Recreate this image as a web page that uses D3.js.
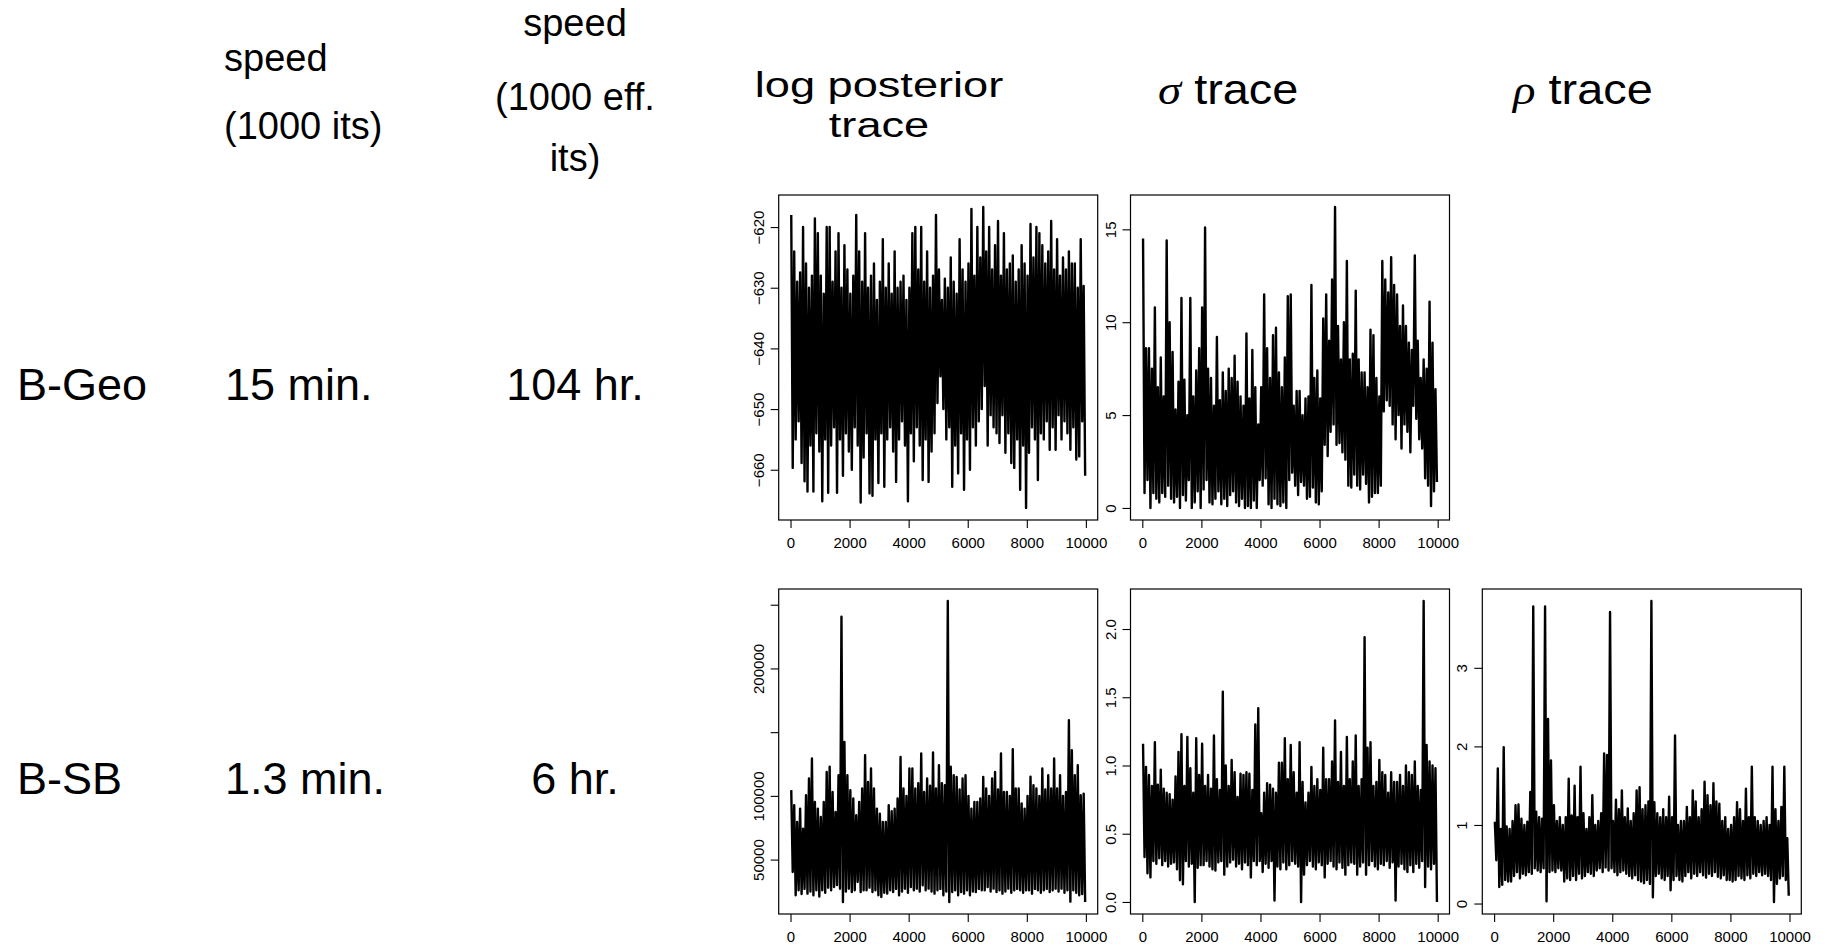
<!DOCTYPE html>
<html>
<head>
<meta charset="utf-8">
<script src="https://cdn.jsdelivr.net/npm/d3@7"></script>
<style>
  body { margin: 0; background: #fff; }
</style>
</head>
<body>
<script>
// table text
var methods = ["B-Geo", "B-SB"];
var speedIts = ["15 min.", "1.3 min."];
var speedEff = ["104 hr.", "6 hr."];

// iteration ticks (shared by every panel)
var iterTicks = [0, 2000, 4000, 6000, 8000, 10000];

var geoLogpostHi = [-618, -624, -629, -627.5, -620, -626, -630, -628, -618.6, -621,
  -628, -631, -620, -620, -629, -624, -621, -630, -623, -627,
  -631, -628, -618, -624, -629, -621, -630, -628, -626, -632,
  -629, -622, -630, -626, -631, -624, -630, -629, -628, -632,
  -630, -621, -620, -627, -620, -629, -624, -630, -628, -618,
  -627, -632, -628.5, -630, -625, -629, -631, -622, -627, -629,
  -626, -617, -628, -620, -625, -616.7, -624, -620, -627, -623,
  -619, -628, -621, -627, -626, -624.7, -629, -627, -623, -626,
  -628, -619.5, -625, -620, -621, -623, -626, -624, -619, -627,
  -622, -628, -625, -627, -624, -626, -626, -630, -622, -629.7];
var geoLogpostLo = [-659.7, -655, -652, -658.9, -661.9, -663.6, -656, -663.6, -654, -657,
  -665.2, -655, -663.8, -656, -653, -663.8, -655, -661, -654, -657,
  -660, -653, -656, -665.4, -658, -654, -663.9, -664.3, -655, -662.2,
  -654, -662.8, -655, -653, -657, -662, -655, -652, -656, -665.2,
  -654, -658.6, -653, -656, -661.7, -655, -662, -657, -654, -649,
  -644.6, -650, -655, -653, -662.8, -656, -660.6, -654, -663.3, -655,
  -660, -653, -656, -652, -650, -646.2, -656, -651, -653, -654,
  -655.6, -651, -657.2, -654, -658.9, -659.7, -655, -663.3, -656, -666.3,
  -657.2, -653, -655, -661.7, -654, -655, -652, -656.7, -653, -656.7,
  -651, -655, -652, -654, -656.7, -653, -658.3, -657.8, -652, -661];

var geoSigmaHi = [14.5, 8.6, 8.6, 7.5, 10.8, 6.5, 8.1, 6.0, 14.4, 10.0,
  8.4, 5.3, 6.8, 11.3, 6.9, 5.0, 11.3, 6.0, 7.4, 8.6,
  10.8, 15.1, 7.5, 7.0, 5.5, 9.2, 5.8, 7.3, 6.3, 7.5,
  7.0, 8.2, 6.8, 6.0, 5.5, 9.4, 5.9, 8.5, 6.5, 4.5,
  6.5, 11.5, 8.6, 7.0, 9.3, 9.7, 7.3, 6.5, 8.1, 11.4,
  11.5, 5.5, 6.3, 6.3, 5.0, 5.9, 6.0, 12.0, 7.0, 7.4,
  5.9, 10.2, 11.5, 9.0, 12.3, 16.2, 9.8, 8.0, 10.0, 13.3,
  8.0, 8.3, 11.7, 8.0, 7.3, 7.3, 6.5, 9.6, 9.3, 7.0,
  6.0, 13.3, 12.3, 11.6, 13.5, 12.0, 11.5, 9.8, 10.9, 9.8,
  8.9, 8.5, 13.6, 9.0, 7.0, 8.0, 7.5, 11.1, 8.9, 6.4];
var geoSigmaLo = [0.8, 1.5, 0, 0.8, 0.5, 0.3, 0.8, 0.6, 1.2, 0.5,
  0.3, 0.6, 0, 0.7, 0.4, 1.5, 0, 0.3, 0.9, 0,
  1.0, 1.5, 0.3, 0.2, 0.5, 0.9, 0.2, 0.5, 0.1, 0.7,
  0.9, 0.3, 0.1, 0.5, 0, 0.1, 0, 0.4, 0, 1.5,
  1.2, 1.6, 0.2, 0, 0.5, 0.2, 0.1, 0.3, 0, 1.5,
  1.9, 1.2, 0.7, 1.4, 1.2, 0.5, 0.6, 1.1, 0.3, 0.2,
  0.9, 3.4, 2.8, 4.1, 4.5, 3.4, 3.5, 3.0, 2.6, 1.2,
  1.1, 1.8, 1.2, 1.0, 1.8, 1.3, 0.3, 0.6, 0.8, 0.8,
  1.2, 5.2, 5.8, 5.5, 4.5, 3.7, 5.0, 3.2, 4.5, 4.1,
  3.0, 5.5, 4.8, 3.7, 3.2, 1.6, 1.2, 0.1, 0.9, 1.4];

var sbLogpostHi = [104500, 92700, 79600, 90000, 74300, 100500, 113600, 129300, 95300, 90000,
  83500, 95300, 118800, 122800, 103000, 87400, 116200, 240600, 142400, 116200,
  104500, 98000, 84800, 95300, 105800, 132000, 111000, 121500, 105800, 90000,
  86000, 79600, 79600, 92700, 88000, 90000, 98000, 130600, 105800, 100000,
  121500, 121500, 105800, 110000, 133200, 103000, 113600, 108000, 134000, 105800,
  124100, 110000, 108400, 252900, 122800, 116200, 114900, 105000, 113600, 116200,
  100000, 90000, 95300, 95300, 98000, 114900, 105800, 100000, 113600, 118800,
  105000, 133200, 103000, 103000, 100000, 136600, 105800, 105800, 94000, 90000,
  100000, 115000, 108400, 105800, 100000, 121500, 105000, 116200, 105800, 129300,
  105800, 116200, 100000, 103000, 159400, 135900, 116200, 124100, 100500, 101800];
var sbLogpostLo = [40300, 22000, 26000, 23000, 27000, 23300, 25000, 22000, 26000, 21000,
  25900, 24000, 28000, 26000, 28500, 30000, 27200, 16750, 25000, 27200,
  24600, 26000, 32500, 24600, 26000, 25900, 28000, 24600, 26000, 22000,
  20700, 24000, 23300, 26000, 24600, 27000, 22000, 25000, 27200, 24000,
  28500, 26000, 27200, 25000, 29800, 26000, 27200, 25000, 23300, 26000,
  27000, 22000, 25000, 16750, 24600, 26000, 22000, 24600, 23300, 26000,
  22000, 25000, 24600, 27000, 25900, 26000, 28500, 25000, 27200, 24600,
  26000, 23300, 25000, 27200, 24000, 25900, 27000, 25900, 24000, 26000,
  25900, 23300, 27000, 25900, 24000, 25900, 27000, 24600, 26000, 27200,
  25000, 27200, 24000, 26000, 17000, 25900, 24000, 22000, 23000, 16750];

var sbSigmaHi = [1.16, 0.99, 0.93, 0.85, 1.17, 0.86, 0.97, 0.83, 0.80, 0.79,
  0.75, 0.92, 1.10, 1.23, 0.85, 1.21, 0.98, 0.80, 1.20, 0.93,
  1.16, 0.85, 0.93, 0.83, 1.22, 0.90, 0.82, 1.54, 1.00, 0.85,
  1.04, 0.95, 0.77, 0.94, 0.93, 0.95, 0.94, 0.82, 1.30, 1.42,
  0.65, 0.80, 0.87, 0.86, 0.83, 0.80, 1.02, 1.02, 1.20, 0.90,
  1.15, 0.95, 0.80, 1.17, 0.88, 0.73, 0.80, 0.99, 0.85, 0.90,
  0.82, 1.13, 0.90, 0.90, 1.03, 1.33, 0.88, 1.10, 0.85, 1.21,
  0.90, 1.03, 1.22, 0.85, 0.90, 1.94, 1.13, 1.17, 0.85, 0.88,
  1.04, 0.95, 0.93, 0.80, 0.95, 0.88, 0.88, 0.93, 0.85, 1.00,
  0.95, 0.93, 1.03, 0.85, 0.82, 2.205, 1.15, 1.03, 1.00, 0.98];
var sbSigmaLo = [0.33, 0.21, 0.18, 0.30, 0.28, 0.32, 0.27, 0.30, 0.26, 0.28,
  0.29, 0.24, 0.16, 0.13, 0.30, 0.26, 0.28, 0.00, 0.25, 0.27,
  0.27, 0.30, 0.26, 0.24, 0.23, 0.29, 0.30, 0.20, 0.26, 0.29,
  0.31, 0.26, 0.28, 0.24, 0.29, 0.27, 0.18, 0.30, 0.27, 0.30,
  0.22, 0.28, 0.25, 0.30, 0.01, 0.26, 0.24, 0.29, 0.24, 0.27,
  0.30, 0.28, 0.26, 0.00, 0.20, 0.27, 0.30, 0.26, 0.24, 0.29,
  0.27, 0.18, 0.28, 0.30, 0.26, 0.24, 0.29, 0.25, 0.20, 0.27,
  0.29, 0.28, 0.20, 0.26, 0.29, 0.20, 0.27, 0.30, 0.26, 0.24,
  0.28, 0.27, 0.30, 0.25, 0.29, 0.01, 0.26, 0.28, 0.24, 0.22,
  0.27, 0.22, 0.28, 0.25, 0.30, 0.11, 0.26, 0.24, 0.28, 0.00];

var sbRhoHi = [1.04, 1.72, 0.95, 1.99, 0.98, 0.95, 1.05, 1.25, 1.26, 1.08,
  1.00, 1.04, 1.42, 3.78, 1.17, 1.10, 1.08, 3.78, 2.35, 1.82,
  1.25, 1.05, 1.10, 1.00, 1.10, 1.59, 1.12, 1.50, 1.10, 1.74,
  1.15, 0.95, 1.10, 1.38, 1.00, 1.05, 1.15, 1.91, 1.89, 3.71,
  1.05, 1.32, 1.20, 1.44, 1.10, 1.21, 1.05, 1.15, 1.44, 1.48,
  1.20, 1.25, 1.30, 3.85, 1.29, 1.15, 1.10, 1.20, 1.10, 1.36,
  1.10, 2.14, 1.00, 1.05, 1.05, 1.23, 1.10, 1.44, 1.30, 1.10,
  1.20, 1.55, 1.38, 1.25, 1.53, 1.30, 1.27, 1.05, 1.10, 0.95,
  1.00, 1.10, 1.29, 1.20, 1.05, 1.46, 1.10, 1.74, 1.10, 1.05,
  1.00, 1.05, 1.10, 1.00, 1.74, 1.20, 1.05, 1.23, 1.74, 0.83];
var sbRhoLo = [0.55, 0.21, 0.24, 0.30, 0.28, 0.28, 0.35, 0.40, 0.32, 0.38,
  0.36, 0.40, 0.38, 0.45, 0.42, 0.40, 0.45, 0.03, 0.40, 0.42,
  0.40, 0.45, 0.42, 0.28, 0.32, 0.30, 0.35, 0.30, 0.38, 0.32,
  0.35, 0.40, 0.38, 0.35, 0.42, 0.45, 0.40, 0.46, 0.42, 0.45,
  0.40, 0.36, 0.40, 0.42, 0.38, 0.35, 0.32, 0.36, 0.30, 0.28,
  0.26, 0.30, 0.25, 0.08, 0.35, 0.38, 0.32, 0.30, 0.35, 0.17,
  0.30, 0.35, 0.30, 0.28, 0.35, 0.40, 0.32, 0.38, 0.35, 0.40,
  0.36, 0.33, 0.38, 0.35, 0.40, 0.34, 0.32, 0.36, 0.30, 0.30,
  0.28, 0.30, 0.35, 0.32, 0.30, 0.36, 0.32, 0.38, 0.35, 0.40,
  0.36, 0.38, 0.35, 0.30, 0.02, 0.25, 0.32, 0.35, 0.30, 0.10];

// y ticks per panel
var geoLogpostTicks = [-660, -650, -640, -630, -620];
var geoSigmaTicks = [0, 5, 10, 15];
var sbLogpostTicks = [50000, 100000, 150000, 200000, 250000];
var sbLogpostLabels = ["50000", "100000", "", "200000", ""];  // R drops the crowded ones
var sbSigmaTicks = [0, 0.5, 1, 1.5, 2];
var sbRhoTicks = [0, 1, 2, 3];

var sans = "Liberation Sans, Arial, Helvetica, sans-serif";
var serif = "Liberation Serif, Times New Roman, serif";

var svg = d3.select("body").append("svg")
  .attr("width", 1828)
  .attr("height", 947);

function label(x, y, str, size, anchor, sx) {
  return svg.append("text")
    .attr("transform", "translate(" + x + "," + y + ") scale(" + (sx || 1) + ",1)")
    .attr("font-family", sans)
    .attr("font-size", size)
    .attr("text-anchor", anchor || "start")
    .attr("fill", "black")
    .text(str);
}

// header, left part
label(224, 71, "speed", 38);
label(224, 139, "(1000 its)", 38);
label(575, 36, "speed", 38, "middle");
label(575, 110, "(1000 eff.", 38, "middle");
label(575, 171, "its)", 38, "middle");

// header, trace columns (wider than tall in the reference, two lines packed tight)
label(879, 97, "log posterior", 36, "middle", 1.255);
label(879, 137, "trace", 36, "middle", 1.255);

var sig = label(1158, 104, "", 43, "start", 1.09);
sig.append("tspan").attr("font-family", serif).attr("font-style", "italic").text("\u03c3");
sig.append("tspan").text(" trace");

var rho = label(1513, 104, "", 43, "start", 1.09);
rho.append("tspan").attr("font-family", serif).attr("font-style", "italic").text("\u03c1");
rho.append("tspan").text(" trace");

// rows
var rowBase = [400, 794];
for (var r = 0; r < 2; r++) {
  label(17, rowBase[r], methods[r], 45);
  label(225, rowBase[r], speedIts[r], 45);
  label(575, rowBase[r], speedEff[r], 45, "middle");
}

// one trace panel, R style (4% padding, box, outward ticks, rotated y labels)
var pw = 319, ph = 325;
function tracePanel(left, top, hi, lo, yTicks, yFormat) {
  var g = svg.append("g").attr("transform", "translate(" + left + "," + top + ")");

  var pts = [];
  for (var i = 0; i < hi.length; i++) {
    pts.push([i * 100 + 25, hi[i]]);
    pts.push([i * 100 + 75, lo[i]]);
  }
  var ext = d3.extent(pts, function(d) { return d[1]; });
  var pad = (ext[1] - ext[0]) * 0.04;

  var x = d3.scaleLinear().domain([-400, 10400]).range([0, pw]);
  var y = d3.scaleLinear().domain([ext[0] - pad, ext[1] + pad]).range([ph, 0]);

  g.append("path")
    .datum(pts)
    .attr("d", d3.line().x(function(d) { return x(d[0]); }).y(function(d) { return y(d[1]); }))
    .attr("fill", "none")
    .attr("stroke", "black")
    .attr("stroke-width", 2.4)
    .attr("stroke-linejoin", "round");

  g.append("rect")
    .attr("x", 0).attr("y", 0)
    .attr("width", pw).attr("height", ph)
    .attr("fill", "none")
    .attr("stroke", "black")
    .attr("stroke-width", 1.2);

  var xa = g.append("g").attr("transform", "translate(0," + ph + ")")
    .call(d3.axisBottom(x).tickValues(iterTicks).tickSize(8).tickSizeOuter(0).tickFormat(d3.format("d")));
  xa.select(".domain").remove();
  xa.selectAll("line").attr("stroke-width", 1.1);
  xa.selectAll("text")
    .attr("y", 28).attr("dy", null)
    .attr("font-size", 15).attr("font-family", sans);

  var ya = g.append("g")
    .call(d3.axisLeft(y).tickValues(yTicks).tickSize(8).tickSizeOuter(0).tickFormat(yFormat));
  ya.select(".domain").remove();
  ya.selectAll("line").attr("stroke-width", 1.1);
  ya.selectAll("text")
    .attr("x", 0).attr("y", -15).attr("dy", null)
    .attr("transform", "rotate(-90)")
    .attr("text-anchor", "middle")
    .attr("font-size", 15).attr("font-family", sans);
}

var colLeft = [778.7, 1130.5, 1482.3];
var rowTop = [195, 589];

tracePanel(colLeft[0], rowTop[0], geoLogpostHi, geoLogpostLo, geoLogpostTicks, d3.format("d"));
tracePanel(colLeft[1], rowTop[0], geoSigmaHi, geoSigmaLo, geoSigmaTicks, d3.format("d"));
tracePanel(colLeft[0], rowTop[1], sbLogpostHi, sbLogpostLo, sbLogpostTicks,
  function(d, i) { return sbLogpostLabels[i]; });
tracePanel(colLeft[1], rowTop[1], sbSigmaHi, sbSigmaLo, sbSigmaTicks, d3.format(".1f"));
tracePanel(colLeft[2], rowTop[1], sbRhoHi, sbRhoLo, sbRhoTicks, d3.format("d"));
</script>
</body>
</html>
